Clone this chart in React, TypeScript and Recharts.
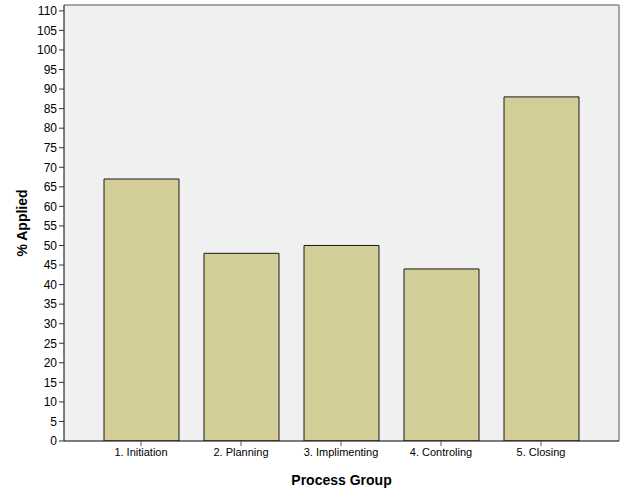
import { Bar, BarChart, CartesianGrid, XAxis, YAxis } from "recharts";

const groups = ["1. Initiation", "2. Planning", "3. Implimenting", "4. Controling", "5. Closing"];
const applied = [67, 48, 50, 44, 88];
const yTicks = [0, 5, 10, 15, 20, 25, 30, 35, 40, 45, 50, 55, 60, 65, 70, 75, 80, 85, 90, 95, 100, 105, 110];

const data = groups.map((name, i) => ({ name, value: applied[i] }));

const FONT = "'Liberation Sans', Arial, sans-serif";

export default function App() {
  return (
    <div style={{ position: "absolute", left: 0, top: 0, width: 626, height: 501, background: "#fff", fontFamily: FONT }}>
      <BarChart width={626} height={501} data={data} margin={{ top: 5, right: 7, bottom: 0, left: 0 }}>
        <CartesianGrid horizontal={false} vertical={false} fill="#f0f0f0" />
        <CartesianGrid
          fillOpacity={0}
          stroke="#8a8a8a"
          strokeWidth={1.5}
          horizontalCoordinatesGenerator={({ offset }: any) => [offset.top]}
          verticalCoordinatesGenerator={({ offset }: any) => [offset.left + offset.width]}
        />
        <XAxis
          dataKey="name"
          height={60}
          padding={{ left: 27, right: 28 }}
          stroke="#000"
          tick={{ fill: "#000", fontSize: 11, fontFamily: FONT }}
          tickLine={{ stroke: "#555" }}
          tickSize={5}
          label={{ value: "Process Group", position: "insideBottom", offset: 16, style: { fontWeight: "bold", fontSize: 14, fill: "#000", fontFamily: FONT } }}
        />
        <YAxis
          domain={[0, 111.5]}
          ticks={yTicks}
          interval={0}
          width={64}
          stroke="#000"
          tick={{ fill: "#000", fontSize: 12, fontFamily: FONT }}
          tickLine={{ stroke: "#333" }}
          tickSize={5}
          allowDataOverflow
          label={{ value: "% Applied", angle: -90, position: "center", dx: -10, style: { fontWeight: "bold", fontSize: 14, fill: "#000", fontFamily: FONT } }}
        />
        <Bar dataKey="value" barSize={75} fill="#d3ce97" stroke="#1a1a1a" strokeWidth={1} isAnimationActive={false} />
      </BarChart>
    </div>
  );
}
